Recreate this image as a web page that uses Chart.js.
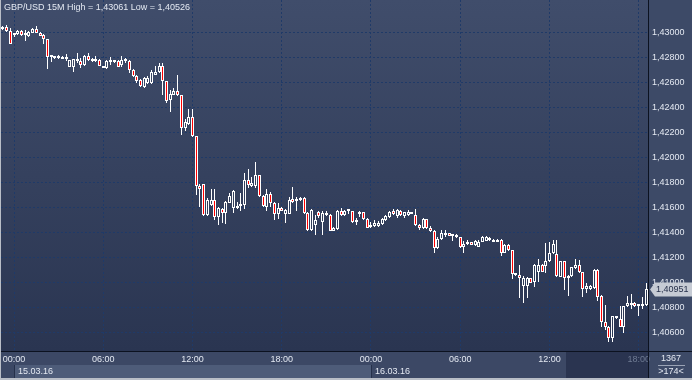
<!DOCTYPE html>
<html><head><meta charset="utf-8">
<script src="https://cdn.jsdelivr.net/npm/chart.js@4.4.1/dist/chart.umd.min.js"></script>
<style>html,body{margin:0;padding:0;background:#3c4966;overflow:hidden}canvas{display:block}</style>
</head><body>
<canvas id="c" width="692" height="380"></canvas>
<script>
// ---- data (GBP/USD 15M) ----
const symbol = 'GBP/USD';
const period = '15M';
const startUTC = Date.UTC(2016, 2, 14, 23, 15); // first candle time
const stepMinutes = 15;

const open = [
1.43032,1.43048,1.43016,1.42980,1.42992,1.43016,1.42984,1.42976,1.43000,1.43032,
1.43000,1.42984,1.42952,1.42804,1.42800,1.42800,1.42808,1.42788,1.42732,1.42732,
1.42788,1.42776,1.42740,1.42816,1.42772,1.42776,1.42784,1.42720,1.42720,1.42764,
1.42764,1.42776,1.42744,1.42772,1.42776,1.42704,1.42656,1.42624,1.42568,1.42600,
1.42600,1.42664,1.42684,1.42736,1.42612,1.42460,1.42508,1.42536,1.42504,1.42236,
1.42272,1.42332,1.42172,1.41776,1.41788,1.41540,1.41624,1.41664,1.41532,1.41592,
1.41560,1.41644,1.41600,1.41596,1.41616,1.41624,1.41824,1.41776,1.41772,1.41864,
1.41696,1.41608,1.41712,1.41644,1.41552,1.41600,1.41552,1.41552,1.41672,1.41652,
1.41664,1.41680,1.41560,1.41424,1.41464,1.41568,1.41492,1.41560,1.41544,1.41420,
1.41432,1.41576,1.41540,1.41572,1.41576,1.41508,1.41552,1.41564,1.41512,1.41448,
1.41452,1.41452,1.41472,1.41504,1.41524,1.41580,1.41536,1.41580,1.41536,1.41544,
1.41552,1.41544,1.41464,1.41440,1.41512,1.41440,1.41420,1.41280,1.41352,1.41384,
1.41400,1.41376,1.41384,1.41364,1.41288,1.41312,1.41324,1.41304,1.41292,1.41332,
1.41340,1.41344,1.41332,1.41332,1.41344,1.41244,1.41304,1.41264,1.41060,1.41060,
1.40980,1.40980,1.41036,1.41008,1.41092,1.41144,1.41140,1.41172,1.41240,1.41232,
1.41052,1.41172,1.41040,1.41056,1.41120,1.41144,1.41088,1.40952,1.40952,1.40960,
1.41108,1.40896,1.40692,1.40652,1.40560,1.40736,1.40716,1.40652,1.40812,1.40824,
1.40844,1.40812,1.40816,1.40824];

const high = [
1.43056,1.43061,1.43040,1.43000,1.43024,1.43024,1.43024,1.43016,1.43040,1.43056,
1.43008,1.42992,1.42952,1.42824,1.42816,1.42824,1.42816,1.42832,1.42784,1.42792,
1.42840,1.42800,1.42824,1.42840,1.42800,1.42816,1.42792,1.42736,1.42784,1.42808,
1.42780,1.42784,1.42816,1.42800,1.42784,1.42712,1.42664,1.42632,1.42648,1.42656,
1.42704,1.42736,1.42760,1.42760,1.42616,1.42544,1.42560,1.42664,1.42504,1.42312,
1.42392,1.42392,1.42176,1.41792,1.41792,1.41680,1.41752,1.41752,1.41608,1.41600,
1.41656,1.41720,1.41744,1.41648,1.41720,1.41880,1.41912,1.41848,1.41968,1.41864,
1.41704,1.41752,1.41724,1.41648,1.41640,1.41608,1.41592,1.41688,1.41768,1.41688,
1.41688,1.41688,1.41568,1.41592,1.41544,1.41576,1.41580,1.41580,1.41552,1.41448,
1.41584,1.41600,1.41584,1.41580,1.41580,1.41520,1.41576,1.41568,1.41520,1.41488,
1.41504,1.41496,1.41520,1.41544,1.41576,1.41588,1.41588,1.41584,1.41568,1.41584,
1.41568,1.41592,1.41472,1.41520,1.41516,1.41456,1.41424,1.41368,1.41424,1.41424,
1.41404,1.41392,1.41388,1.41368,1.41336,1.41344,1.41328,1.41344,1.41344,1.41376,
1.41376,1.41364,1.41352,1.41348,1.41348,1.41312,1.41312,1.41268,1.41080,1.41144,
1.41056,1.41048,1.41040,1.41152,1.41192,1.41148,1.41320,1.41324,1.41344,1.41344,
1.41176,1.41176,1.41064,1.41132,1.41192,1.41184,1.41092,1.41000,1.40984,1.41112,
1.41112,1.40900,1.40824,1.40656,1.40740,1.40740,1.40816,1.40820,1.40896,1.40912,
1.40848,1.40832,1.40888,1.41000];

const low = [
1.43024,1.43008,1.42912,1.42968,1.42984,1.42976,1.42936,1.42968,1.43000,1.43000,
1.42976,1.42912,1.42712,1.42768,1.42792,1.42792,1.42792,1.42776,1.42728,1.42688,
1.42760,1.42720,1.42736,1.42776,1.42768,1.42764,1.42736,1.42716,1.42712,1.42744,
1.42760,1.42728,1.42728,1.42760,1.42680,1.42648,1.42600,1.42568,1.42560,1.42592,
1.42592,1.42660,1.42680,1.42504,1.42440,1.42368,1.42504,1.42496,1.42184,1.42216,
1.42264,1.42168,1.41704,1.41608,1.41536,1.41536,1.41616,1.41504,1.41464,1.41480,
1.41472,1.41640,1.41560,1.41592,1.41576,1.41592,1.41760,1.41768,1.41760,1.41692,
1.41608,1.41576,1.41608,1.41504,1.41512,1.41576,1.41480,1.41548,1.41640,1.41576,
1.41656,1.41552,1.41416,1.41416,1.41384,1.41520,1.41384,1.41536,1.41416,1.41416,
1.41424,1.41536,1.41536,1.41556,1.41480,1.41464,1.41528,1.41508,1.41436,1.41440,
1.41448,1.41448,1.41464,1.41496,1.41520,1.41544,1.41520,1.41536,1.41520,1.41536,
1.41548,1.41456,1.41424,1.41432,1.41432,1.41408,1.41240,1.41272,1.41344,1.41368,
1.41372,1.41336,1.41360,1.41280,1.41240,1.41304,1.41300,1.41296,1.41288,1.41328,
1.41336,1.41340,1.41328,1.41328,1.41216,1.41240,1.41256,1.41032,1.41056,1.40880,
1.40840,1.40880,1.41000,1.40968,1.41008,1.41088,1.41080,1.41168,1.41232,1.41048,
1.41048,1.40944,1.40896,1.41048,1.41112,1.41080,1.40888,1.40920,1.40944,1.40952,
1.40856,1.40648,1.40624,1.40526,1.40532,1.40712,1.40648,1.40604,1.40808,1.40792,
1.40808,1.40736,1.40792,1.40820];

const close = [
1.43048,1.43016,1.42912,1.42984,1.43016,1.42984,1.42992,1.43008,1.43032,1.43000,
1.42976,1.42952,1.42808,1.42812,1.42808,1.42808,1.42792,1.42796,1.42784,1.42788,
1.42772,1.42744,1.42816,1.42780,1.42792,1.42788,1.42736,1.42732,1.42776,1.42780,
1.42776,1.42732,1.42784,1.42788,1.42704,1.42652,1.42620,1.42572,1.42640,1.42640,
1.42688,1.42688,1.42736,1.42612,1.42452,1.42512,1.42536,1.42504,1.42240,1.42284,
1.42332,1.42172,1.41772,1.41752,1.41540,1.41664,1.41664,1.41532,1.41596,1.41560,
1.41648,1.41696,1.41736,1.41616,1.41628,1.41824,1.41784,1.41800,1.41864,1.41696,
1.41612,1.41712,1.41644,1.41552,1.41600,1.41580,1.41584,1.41664,1.41648,1.41672,
1.41680,1.41560,1.41424,1.41584,1.41504,1.41536,1.41560,1.41544,1.41420,1.41440,
1.41576,1.41540,1.41576,1.41576,1.41492,1.41488,1.41564,1.41512,1.41440,1.41468,
1.41476,1.41480,1.41512,1.41536,1.41564,1.41552,1.41584,1.41540,1.41564,1.41568,
1.41564,1.41464,1.41444,1.41512,1.41440,1.41412,1.41280,1.41356,1.41400,1.41404,
1.41376,1.41384,1.41364,1.41288,1.41316,1.41328,1.41304,1.41336,1.41332,1.41368,
1.41368,1.41356,1.41344,1.41344,1.41244,1.41304,1.41260,1.41072,1.41072,1.41044,
1.41044,1.41044,1.41004,1.41144,1.41144,1.41092,1.41172,1.41244,1.41316,1.41056,
1.41172,1.41040,1.41056,1.41124,1.41144,1.41084,1.40952,1.40972,1.40972,1.41108,
1.40892,1.40692,1.40652,1.40560,1.40736,1.40720,1.40652,1.40816,1.40836,1.40840,
1.40812,1.40824,1.40832,1.40951];

const yMin = 1.40456, yMax = 1.43264, yStep = 0.002;
const barsTotal = 1367;
const barsVisible = 174;

// ---- categories (candle times) ----
const pad = n => String(n).padStart(2, '0');
const categories = [], dayLabels = [];
for (let i = 0; i < open.length; i++) {
  const d = new Date(startUTC + i * stepMinutes * 60000);
  categories.push(pad(d.getUTCHours()) + ':' + pad(d.getUTCMinutes()));
  dayLabels.push(pad(d.getUTCDate()) + '.' + pad(d.getUTCMonth() + 1) + '.' + String(d.getUTCFullYear()).slice(2));
}
const isMajor = i => { const t = categories[i]; return !!t && t.endsWith(':00') && (+t.slice(0, 2)) % 6 === 0; };
const fmt = v => v.toFixed(5).replace('.', ',');

const FONT = { family: "'Liberation Sans', Arial, sans-serif", size: 9 };
const GRID = '#1f3a68';
const TXT = '#e4e9f2';

const upperWick = open.map((o, i) => [Math.max(o, close[i]), high[i]]);
const lowerWick = open.map((o, i) => [low[i], Math.min(o, close[i])]);
const bodies = open.map((o, i) => [Math.min(o, close[i]), Math.max(o, close[i])]);
const bodyFill = open.map((o, i) => close[i] < o ? '#ff0000' : 'rgba(0,0,0,0)');

// snap bar elements to whole pixels so candles look crisp
const snapPlugin = {
  id: 'snap',
  afterDatasetsUpdate(chart) {
    chart.data.datasets.forEach((ds, di) => {
      chart.getDatasetMeta(di).data.forEach(el => {
        el.x = Math.floor(el.x) + 0.5;
        el.y = Math.round(el.y);
        el.base = Math.round(el.base);
        if (el.height !== undefined) el.height = el.base - el.y;
      });
    });
  }
};

const bgPlugin = {
  id: 'bg',
  beforeDraw(chart) {
    const { ctx, chartArea: a, scales: { x } } = chart;
    const W = chart.width, H = chart.height;
    ctx.save();
    ctx.fillStyle = '#3d4a67';
    ctx.fillRect(0, 0, W, H);
    const g = ctx.createLinearGradient(0, a.top, 0, a.bottom);
    g.addColorStop(0, '#404d6b');
    g.addColorStop(1, '#2a3551');
    ctx.fillStyle = g;
    ctx.fillRect(a.left - 1, a.top, a.right - a.left + 1, a.bottom - a.top);
    // x-axis band
    ctx.fillStyle = '#3c4865';
    ctx.fillRect(0, a.bottom, a.right, H - a.bottom);
    // day bands
    const pitch = x.getPixelForValue(1) - x.getPixelForValue(0);
    const dayStarts = [];
    categories.forEach((t, i) => { if (t === '00:00') dayStarts.push(i); });
    if (dayStarts.length) {
      const x0 = Math.round(x.getPixelForValue(dayStarts[0]));
      const x1 = dayStarts[1] !== undefined ? Math.round(x.getPixelForValue(dayStarts[1])) : a.right;
      ctx.fillStyle = '#4e5c79';
      ctx.fillRect(x0, a.bottom + 14, x1 - x0, H - a.bottom - 16);
    }
    // dark highlighted zone near the end
    const zx = Math.round(x.getPixelForValue(151) + pitch / 2);
    ctx.fillStyle = '#2a3450';
    ctx.fillRect(zx, a.bottom + 1, a.right - zx, H - a.bottom - 3);
    ctx.restore();
  }
};

const overlayPlugin = {
  id: 'overlay',
  afterDraw(chart) {
    const { ctx, chartArea: a, scales: { x, y } } = chart;
    const W = chart.width, H = chart.height;
    ctx.save();
    ctx.font = "9px 'Liberation Sans', Arial, sans-serif";
    // title
    const hi = Math.max(...high), lo = Math.min(...low);
    ctx.fillStyle = TXT;
    ctx.textBaseline = 'middle';
    ctx.textAlign = 'left';
    ctx.fillText(symbol + ' ' + period + ' High = ' + fmt(hi) + ' Low = ' + fmt(lo), 4, 8);
    // day labels
    categories.forEach((t, i) => {
      if (t === '00:00') {
        const px = Math.round(x.getPixelForValue(i));
        ctx.fillStyle = '#25304a';
        ctx.fillRect(px, a.bottom + 14, 1, H - a.bottom - 16);
        ctx.fillStyle = TXT;
        ctx.fillText(dayLabels[i], px + 4, a.bottom + 21);
      }
    });
    // frame lines
    ctx.fillStyle = '#0c1220';
    ctx.fillRect(0, Math.round(a.bottom), W, 1);
    ctx.fillRect(Math.round(a.right), 0, 1, H);
    ctx.fillStyle = '#b9bec7';
    ctx.fillRect(0, 0, 1, H);
    ctx.fillRect(0, H - 2, W, 2);
    // bottom-right counter box
    const cx = (a.right + W) / 2 + 1;
    ctx.textAlign = 'center';
    ctx.fillStyle = TXT;
    ctx.fillText(String(barsTotal), cx, a.bottom + 8);
    ctx.fillStyle = '#9aa3b5';
    ctx.fillRect(cx - 13, a.bottom + 14, 27, 1);
    ctx.fillStyle = TXT;
    ctx.fillText('>' + barsVisible + '<', cx, a.bottom + 21);
    // current price tag
    const last = close[close.length - 1];
    const py = Math.round(y.getPixelForValue(last)) + 0.5;
    ctx.beginPath();
    ctx.moveTo(a.right + 2, py);
    ctx.lineTo(a.right + 7, py - 7);
    ctx.lineTo(W, py - 7);
    ctx.lineTo(W, py + 7);
    ctx.lineTo(a.right + 7, py + 7);
    ctx.closePath();
    ctx.fillStyle = '#c6cbd4';
    ctx.fill();
    ctx.fillStyle = '#26304a';
    ctx.textAlign = 'left';
    ctx.fillText(fmt(last), a.right + 8, py);
    ctx.restore();
  }
};

new Chart(document.getElementById('c'), {
  type: 'bar',
  data: {
    labels: categories,
    datasets: [
      { label: 'body', data: bodies, backgroundColor: bodyFill, borderColor: '#ffffff', borderWidth: 1,
        borderSkipped: false, barThickness: 3, minBarLength: 2, grouped: false, inflateAmount: 0 },
      { label: 'upper', data: upperWick, backgroundColor: '#ffffff', borderWidth: 0,
        barThickness: 1, grouped: false, inflateAmount: 0 },
      { label: 'lower', data: lowerWick, backgroundColor: '#ffffff', borderWidth: 0,
        barThickness: 1, grouped: false, inflateAmount: 0 }
    ]
  },
  options: {
    responsive: false,
    devicePixelRatio: 1,
    animation: false,
    layout: { padding: { left: 1, top: 0, right: 0, bottom: 0 } },
    plugins: { legend: { display: false }, tooltip: { enabled: false }, title: { display: false } },
    scales: {
      x: {
        type: 'category',
        offset: true,
        grid: { offset: false, drawTicks: false, lineWidth: 1,
          color: c => isMajor(c.index) ? GRID : 'rgba(0,0,0,0)' },
        border: { display: false, dash: [2, 2] },
        ticks: { autoSkip: false, maxRotation: 0, minRotation: 0, padding: 3, font: FONT,
          color: c => (c.index >= 152 ? '#6f7b93' : TXT),
          callback: (v, i) => isMajor(i) ? categories[i] : '' },
        afterFit: s => { s.height = 29; s.paddingLeft = 0; s.paddingRight = 0; }
      },
      y: {
        type: 'linear',
        position: 'right',
        min: yMin, max: yMax,
        grid: { drawTicks: false, color: GRID, lineWidth: 1 },
        border: { display: false, dash: [2, 2] },
        ticks: { stepSize: yStep, includeBounds: false, padding: 4, font: FONT, color: TXT,
          callback: v => fmt(v) },
        afterBuildTicks: s => { s.ticks = s.ticks.filter(t => t.value <= 1.4301 && t.value >= yMin); },
        afterFit: s => { s.width = 44; s.paddingTop = 0; s.paddingBottom = 0; }
      }
    }
  },
  plugins: [snapPlugin, bgPlugin, overlayPlugin]
});
</script>
</body></html>
